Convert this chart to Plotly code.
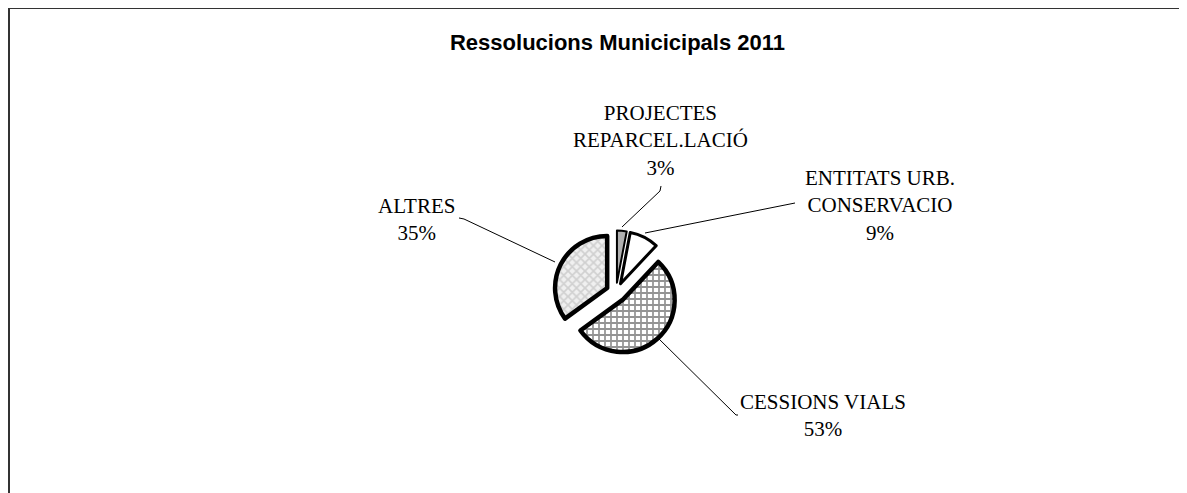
import plotly.graph_objects as go

W, H = 1187, 493
OX, OY = 8, 8  # page offset of the figure (body margin)

# ---- data ----
categories = ["PROJECTES<br>REPARCEL.LACIÓ", "ENTITATS URB.<br>CONSERVACIO", "CESSIONS VIALS", "ALTRES"]
values = [3, 9, 53, 35]
title_text = "Ressolucions Municicipals 2011"

# ---- styles ----
fills = ["#b0b0b0", "#ffffff", "#ffffff", "#f0f0f0"]
pattern_shapes = ["", "", "+", "x"]
pattern_fg = ["#b0b0b0", "#ffffff", "#2a2a2a", "#b0b0b0"]
line_widths = [2, 3, 4.5, 4.5]


def px(x):
    return (x - OX) / W


def py(y):
    return 1 - (y - OY) / H


cx, cy, half = 616, 292.5, 62
fig = go.Figure()
fig.add_trace(go.Pie(
    values=values,
    labels=categories,
    sort=False,
    direction="clockwise",
    rotation=0,
    pull=[0.19] * len(values),
    textinfo="none",
    hoverinfo="label+percent",
    showlegend=False,
    domain=dict(x=[px(cx - half), px(cx + half)], y=[py(cy + half), py(cy - half)]),
    marker=dict(
        colors=fills,
        line=dict(color="#000000", width=line_widths),
        pattern=dict(shape=pattern_shapes, fgcolor=pattern_fg, bgcolor=fills,
                     size=6, solidity=0.5, fillmode="overlay"),
    ),
))

total = sum(values)
pct = [f"{round(v * 100 / total)}%" for v in values]

label_pos = [(660, 140), (880, 206), (823, 415), (416, 219)]
serif = dict(family="Times New Roman, Liberation Serif, serif", size=21, color="#000000")
annotations = []
for cat, p, (lx, ly) in zip(categories, pct, label_pos):
    annotations.append(dict(
        text=f"{cat}<br>{p}", x=px(lx), y=py(ly), xref="paper", yref="paper",
        xanchor="center", yanchor="middle", showarrow=False, font=serif, align="center",
    ))

leaders = [
    [(661, 186), (660, 191), (622, 227)],
    [(795, 203), (645, 233)],
    [(738, 415), (736, 415), (658, 338)],
    [(459, 218), (464, 219), (555, 262)],
]
shapes = []
for pts in leaders:
    d = "M " + " L ".join(f"{px(x):.5f},{py(y):.5f}" for x, y in pts)
    shapes.append(dict(type="path", path=d, xref="paper", yref="paper",
                       line=dict(color="#000000", width=1)))

# outer chart frame (top and left visible)
shapes.append(dict(type="line", xref="paper", yref="paper", x0=px(9), y0=py(8), x1=1.01, y1=py(8),
                   line=dict(color="#333333", width=2)))
shapes.append(dict(type="line", xref="paper", yref="paper", x0=px(9), y0=py(8), x1=px(9), y1=-0.01,
                   line=dict(color="#333333", width=2)))

fig.update_layout(
    width=W, height=H,
    margin=dict(l=0, r=0, t=0, b=0),
    paper_bgcolor="#ffffff", plot_bgcolor="#ffffff",
    title=dict(text=title_text, x=px(617.5), xanchor="center", y=py(42), yanchor="middle",
               xref="paper", yref="paper",
               font=dict(family="Arial, Liberation Sans, sans-serif", size=22, color="#000000", weight="bold")),
    annotations=annotations,
    shapes=shapes,
)

fig.write_html("out.html")
